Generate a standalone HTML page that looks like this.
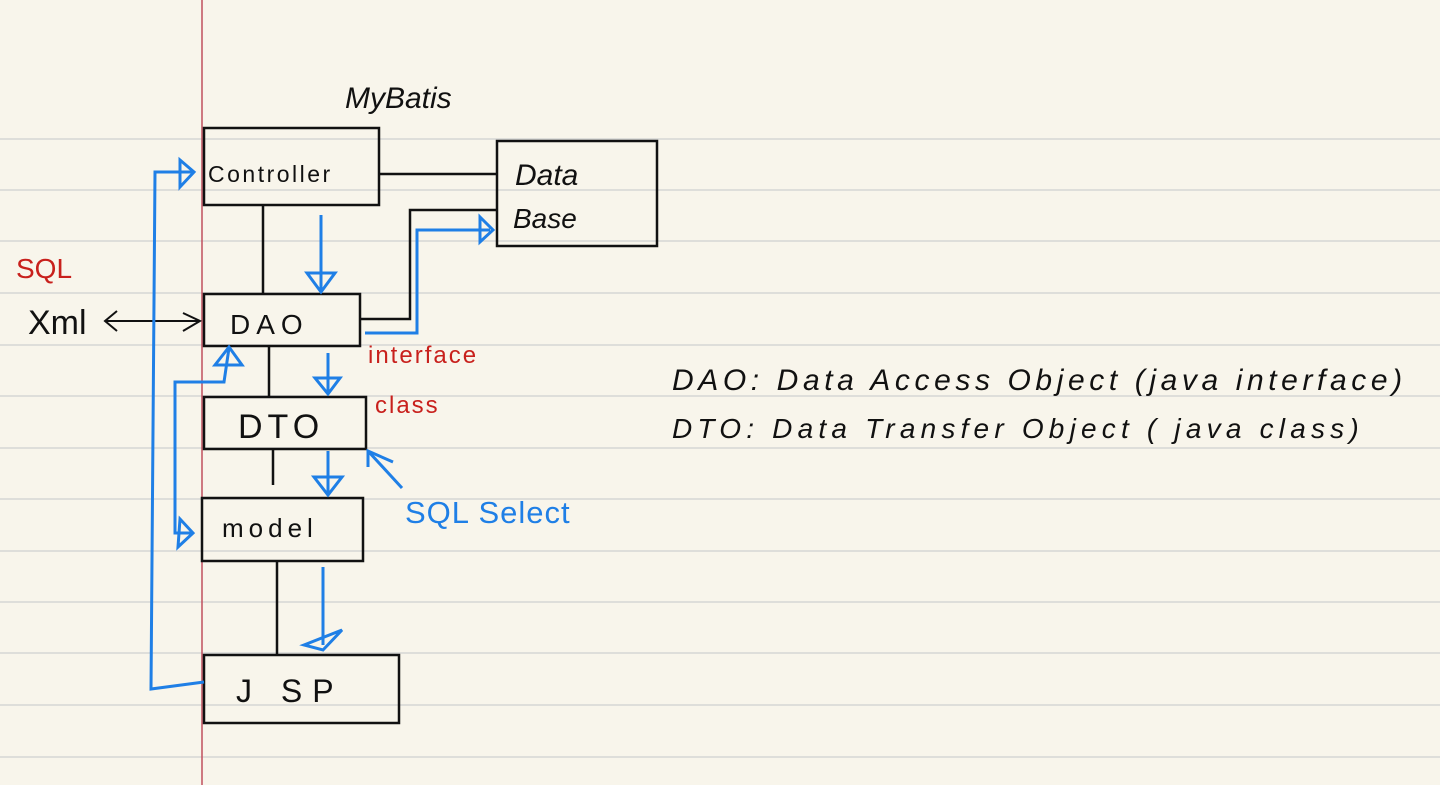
<!DOCTYPE html>
<html><head><meta charset="utf-8"><style>
html,body{margin:0;padding:0;background:#f8f5eb;}
svg{display:block}
text{font-family:"Liberation Sans",sans-serif;}
</style></head><body>
<svg width="1440" height="785" viewBox="0 0 1440 785" xmlns="http://www.w3.org/2000/svg">
<rect width="1440" height="785" fill="#f8f5eb"/>
<g stroke="#d6d6d4" stroke-width="1.5">
<line x1="0" y1="139" x2="1440" y2="139"/><line x1="0" y1="190" x2="1440" y2="190"/>
<line x1="0" y1="241" x2="1440" y2="241"/><line x1="0" y1="293" x2="1440" y2="293"/>
<line x1="0" y1="345" x2="1440" y2="345"/><line x1="0" y1="396" x2="1440" y2="396"/>
<line x1="0" y1="448" x2="1440" y2="448"/><line x1="0" y1="499" x2="1440" y2="499"/>
<line x1="0" y1="551" x2="1440" y2="551"/><line x1="0" y1="602" x2="1440" y2="602"/>
<line x1="0" y1="653" x2="1440" y2="653"/><line x1="0" y1="705" x2="1440" y2="705"/>
<line x1="0" y1="757" x2="1440" y2="757"/>
</g>
<line x1="202" y1="0" x2="202" y2="785" stroke="#c0505e" stroke-width="1.5"/>
<g fill="none" stroke="#111" stroke-width="2.5">
<rect x="204" y="128" width="175" height="77"/>
<rect x="497" y="141" width="160" height="105"/>
<rect x="204" y="294" width="156" height="52"/>
<rect x="204" y="397" width="162" height="52"/>
<rect x="202" y="498" width="161" height="63"/>
<rect x="204" y="655" width="195" height="68"/>
<line x1="379" y1="174" x2="497" y2="174"/>
<polyline points="360,319 410,319 410,210 497,210"/>
<line x1="263" y1="205" x2="263" y2="294"/>
<line x1="269" y1="346" x2="269" y2="397"/>
<line x1="273" y1="449" x2="273" y2="485"/>
<line x1="277" y1="561" x2="277" y2="655"/>
<line x1="105" y1="321" x2="200" y2="321" stroke-width="2"/>
<polyline points="117,311 105,321 117,331" stroke-width="2"/>
<polyline points="183,313 200,321 183,331" stroke-width="2"/>
</g>
<g fill="none" stroke="#1f7fe6" stroke-width="3">
<polyline points="204,682 151,689 155,172 194,172"/>
<polygon points="180,160 194,172 180,187"/>
<polyline points="365,333 417,333 417,230 490,230"/>
<polygon points="480,217 493,230 480,242"/>
<line x1="321" y1="215" x2="321" y2="292"/>
<polygon points="307,273 335,273 321,292"/>
<line x1="328" y1="353" x2="328" y2="394"/>
<polygon points="315,378 340,378 328,394"/>
<line x1="328" y1="451" x2="328" y2="495"/>
<polygon points="314,477 342,477 328,495"/>
<line x1="323" y1="567" x2="323" y2="645"/>
<polygon points="304,645 342,630 323,650"/>
<polyline points="193,533 175,533 175,382 224,382 229,348"/>
<polygon points="215,365 229,347 242,365"/>
<polygon points="180,519 193,533 178,547"/>
<line x1="402" y1="488" x2="368" y2="451"/>
<polyline points="368,467 368,451 393,462"/>
</g>
<g fill="#111" font-size="30">
<text x="345" y="108" font-style="italic" font-size="30">MyBatis</text>
<text x="208" y="182" font-size="23" letter-spacing="2.5">Controller</text>
<text x="515" y="185" font-size="30" font-style="italic">Data</text>
<text x="513" y="228" font-size="28" font-style="italic">Base</text>
<text x="230" y="334" font-size="28" letter-spacing="6">DAO</text>
<text x="238" y="438" font-size="34" letter-spacing="5">DTO</text>
<text x="222" y="537" font-size="26" letter-spacing="5">model</text>
<text x="236" y="702" font-size="32" letter-spacing="10">J SP</text>
<text x="28" y="334" font-size="34">Xml</text>
<text x="672" y="390" font-size="30" font-style="italic" letter-spacing="4.6">DAO:  Data Access  Object  (java interface)</text>
<text x="672" y="438" font-size="28" font-style="italic" letter-spacing="5.2">DTO:  Data  Transfer  Object  ( java class)</text>
</g>
<g fill="#c8201c">
<text x="16" y="278" font-size="28">SQL</text>
<text x="368" y="363" font-size="24" letter-spacing="2">interface</text>
<text x="375" y="413" font-size="24" letter-spacing="2">class</text>
</g>
<text x="405" y="523" font-size="31" fill="#1f7fe6" letter-spacing="1">SQL Select</text>
</svg>
</body></html>
